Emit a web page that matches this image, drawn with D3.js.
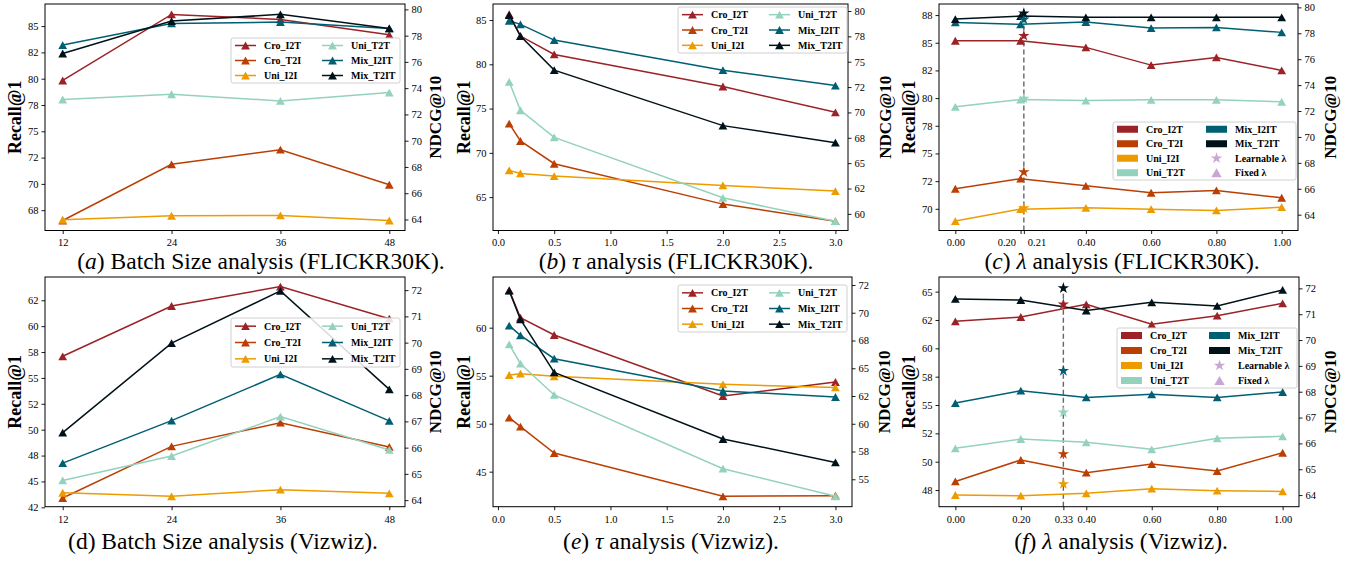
<!DOCTYPE html>
<html><head><meta charset="utf-8">
<script src="https://cdn.jsdelivr.net/npm/d3@7"></script>
<style>
body{margin:0;background:#fff;}
svg{display:block;font-family:"Liberation Serif","Times New Roman",serif;}
</style></head><body>
<svg id="c" width="1354" height="561"></svg>
<script>
// ---------- data ----------
const seriesNames = ["Cro_I2T","Cro_T2I","Uni_I2I","Uni_T2T","Mix_I2IT","Mix_T2IT"];
const seriesColors = ["#9b2226","#bb3e03","#ee9b00","#94d2bd","#005f73","#001219"];
const seriesAxis = ["L","L","L","L","R","R"]; // Recall@1 (left) / NDCG@10 (right)
const legendExtra = ["Learnable λ","Fixed λ"];
const extraColor = "#c9a6d6";

const batchX = [12,24,36,48];
const tauX = [0.1,0.2,0.5,2.0,3.0];
const lambdaX = [0,0.2,0.4,0.6,0.8,1.0];
const learnLambdaFlickr = 0.21;
const learnLambdaViz = 0.33;

const batchTicks = [12,24,36,48];
const tauTicks = [0,0.5,1,1.5,2,2.5,3];
const lambdaTicksFlickr = [0,0.2,0.21,0.4,0.6,0.8,1.0];
const lambdaTicksViz = [0,0.2,0.33,0.4,0.6,0.8,1.0];

// (a) Batch size, FLICKR30K  (rows follow seriesNames)
const flickrBatch = [
  [79.83,86.11,85.63,84.17],
  [66.52,71.86,73.25,69.92],
  [66.59,66.97,67.00,66.52],
  [78.02,78.52,77.89,78.68],
  [77.28,78.93,79.03,78.55],
  [76.64,79.11,79.62,78.55]
];
// (b) tau, FLICKR30K
const flickrTau = [
  [85.65,83.19,81.11,77.49,74.58],
  [73.30,71.34,68.77,64.21,62.28],
  [68.02,67.68,67.38,66.32,65.68],
  [78.02,74.81,71.75,64.92,62.28],
  [79.04,78.68,77.13,74.17,72.65],
  [79.60,77.53,74.17,68.70,67.02]
];
// (c) lambda, FLICKR30K
const flickrLambda = [
  [85.18,85.18,84.58,82.98,83.67,82.50],
  [71.81,72.72,72.08,71.45,71.66,71.00],
  [68.89,69.97,70.09,69.97,69.85,70.15],
  [79.21,79.87,79.78,79.84,79.84,79.66],
  [78.84,78.69,78.87,78.40,78.45,78.07],
  [79.10,79.33,79.23,79.23,79.23,79.23]
];
const flickrLearnable = [85.63,73.32,70.06,79.96,79.07,79.54];
// (d) Batch size, Vizwiz
const vizBatch = [
  [57.09,61.95,63.82,60.72],
  [43.40,48.39,50.68,48.33],
  [43.91,43.56,44.20,43.85],
  [45.10,47.46,51.26,48.04],
  [65.41,67.03,68.79,67.02],
  [66.57,69.98,71.97,68.22]
];
// (e) tau, Vizwiz
const vizTau = [
  [63.90,61.04,59.24,52.88,54.34],
  [50.63,49.69,46.94,42.43,42.50],
  [55.07,55.21,54.93,54.10,53.78],
  [58.26,56.25,52.99,45.31,42.43],
  [68.84,67.97,65.86,62.95,62.41],
  [71.99,69.41,64.63,58.63,56.52]
];
// (f) lambda, Vizwiz
const vizLambda = [
  [62.38,62.76,63.88,62.12,62.88,63.97],
  [48.26,50.15,49.03,49.79,49.18,50.79],
  [47.06,47.00,47.21,47.62,47.44,47.38],
  [51.18,52.00,51.71,51.09,52.06,52.24],
  [67.56,68.04,67.78,67.90,67.78,67.99],
  [71.59,71.55,71.14,71.46,71.32,71.94]
];
const vizLearnable = [63.88,50.68,48.03,54.35,68.81,72.01];

// ---------- helpers ----------
function halfEven(v){
  const f = Math.floor(v), d = v - f;
  if (Math.abs(d-0.5) < 1e-9) return String(f%2===0 ? f : f+1);
  return String(Math.round(v));
}
function triPath(w,h){ return `M0,${-h}L${w},${h}L${-w},${h}Z`; }
function starPath(r){
  const ri = r*0.381966; let s="";
  for(let i=0;i<10;i++){
    const a = -Math.PI/2 + i*Math.PI/5, rr = i%2===0 ? r : ri;
    s += (i===0?"M":"L") + (rr*Math.cos(a)).toFixed(2) + "," + (rr*Math.sin(a)).toFixed(2);
  }
  return s+"Z";
}

// ---------- panel layout ----------
const panels = [
 {x:batchX, v:flickrBatch, xt:batchTicks, xf:d=>String(d), box:[45,4,405,230.5], xd:[10.05,49.73],
  yl:[65.57,87.1], yr:[63.16,80.41], lt:d3.range(67.5,85.01,2.5), rt:d3.range(64,80.01,2),
  leg:{x:231,y:38,w:169,h:45,c2:87,type:"line"}, rx:435, lx:15,
  cap:{x:261,y:269,parts:[["(",0],["a",1],[") Batch Size analysis (FLICKR30K).",0]]}},
 {x:tauX, v:flickrTau, xt:tauTicks, xf:d3.format(".1f"), box:[493,4,848,230.5], xd:[-0.044,3.112],
  yl:[61.23,86.81], yr:[58.36,80.69], lt:d3.range(65,85.01,5), rt:d3.range(60,80.01,2.5),
  leg:{x:678,y:7,w:169,h:46,c2:87,type:"line"}, rx:885, lx:464,
  cap:{x:676,y:269,parts:[["(",0],["b",1],[") ",0],["τ",1],[" analysis (FLICKR30K).",0]]}},
 {x:lambdaX, v:flickrLambda, xt:lambdaTicksFlickr, xf:d3.format(".2f"), box:[939,4,1298,230.5], xd:[-0.05,1.05],
  yl:[68.04,88.5], yr:[62.78,80.26], lt:d3.range(70,87.51,2.5), rt:d3.range(64,80.01,2),
  leg:{x:1113,y:122,w:183,h:58,c2:89,type:"patch"}, rx:1330, lx:909,
  star:{x:learnLambdaFlickr, v:flickrLearnable}, split:[0.2,0.21],
  cap:{x:1122,y:269,parts:[["(",0],["c",1],[") ",0],["λ",1],[" analysis (FLICKR30K).",0]]}},
 {x:batchX, v:vizBatch, xt:batchTicks, xf:d=>String(d), box:[45,277,405,506.7], xd:[10.05,49.73],
  yl:[42.56,64.75], yr:[63.75,72.5], lt:d3.range(42.5,62.51,2.5), rt:d3.range(64,72.01,1),
  leg:{x:231,y:318,w:169,h:49,c2:87,type:"line"}, rx:435, lx:15,
  cap:{x:223,y:549,parts:[["(d) Batch Size analysis (Vizwiz).",0]]}},
 {x:tauX, v:vizTau, xt:tauTicks, xf:d3.format(".1f"), box:[493,277,852,506.7], xd:[-0.044,3.147],
  yl:[41.35,65.28], yr:[52.53,73.22], lt:d3.range(45,60.01,5), rt:d3.range(55,72.51,2.5),
  leg:{x:678,y:285,w:169,h:47,c2:87,type:"line"}, rx:884, lx:464,
  cap:{x:671,y:549,parts:[["(",0],["e",1],[") ",0],["τ",1],[" analysis (Vizwiz).",0]]}},
 {x:lambdaX, v:vizLambda, xt:lambdaTicksViz, xf:d3.format(".2f"), box:[939,277,1299,506.7], xd:[-0.05,1.05],
  yl:[46.03,66.29], yr:[63.55,72.44], lt:d3.range(47.5,65.01,2.5), rt:d3.range(64,72.01,1),
  leg:{x:1117,y:328,w:180,h:60,c2:88,type:"patch"}, rx:1330, lx:909,
  star:{x:learnLambdaViz, v:vizLearnable},
  cap:{x:1121,y:549,parts:[["(",0],["f",1],[") ",0],["λ",1],[" analysis (Vizwiz).",0]]}}
];

const svg = d3.select("#c");
const FONT = '"Liberation Serif","Times New Roman",serif';

function styleAxis(sel){
  sel.attr("font-family",FONT).attr("font-size",10.5);
  sel.selectAll("text").attr("fill","#000");
  sel.selectAll("line").attr("stroke","#000").attr("stroke-width",0.9);
  sel.select(".domain").remove();
}

panels.forEach(p=>{
  const [x0,y0,x1,y1] = p.box;
  const xs = d3.scaleLinear().domain(p.xd).range([x0,x1]);
  const yL = d3.scaleLinear().domain(p.yl).range([y1,y0]);
  const yR = d3.scaleLinear().domain(p.yr).range([y1,y0]);
  const g = svg.append("g");

  const xa = g.append("g").attr("transform",`translate(0,${y1})`)
    .call(d3.axisBottom(xs).tickValues(p.xt).tickFormat(p.xf).tickSize(3.5).tickPadding(5));
  styleAxis(xa);
  if (p.split){
    xa.selectAll(".tick text").filter(d=>d===p.split[0]).attr("text-anchor","end").attr("x",-5);
    xa.selectAll(".tick text").filter(d=>d===p.split[1]).attr("text-anchor","start").attr("x",3.5);
  }
  const la = g.append("g").attr("transform",`translate(${x0},0)`)
    .call(d3.axisLeft(yL).tickValues(p.lt).tickFormat(halfEven).tickSize(3.5).tickPadding(3));
  styleAxis(la);
  const ra = g.append("g").attr("transform",`translate(${x1},0)`)
    .call(d3.axisRight(yR).tickValues(p.rt).tickFormat(halfEven).tickSize(3.5).tickPadding(3));
  styleAxis(ra);

  // axis titles
  g.append("text").attr("transform",`translate(${p.lx},${(y0+y1)/2}) rotate(-90)`)
    .attr("text-anchor","middle").attr("dominant-baseline","central")
    .attr("font-family",FONT).attr("font-weight","bold").attr("font-size",18).text("Recall@1");
  g.append("text").attr("transform",`translate(${p.rx},${(y0+y1)/2}) rotate(-90)`)
    .attr("text-anchor","middle").attr("dominant-baseline","central")
    .attr("font-family",FONT).attr("font-weight","bold").attr("font-size",17).text("NDCG@10");

  // dashed guide for learnable lambda
  if (p.star){
    const ys = p.star.v.map((v,i)=> (seriesAxis[i]==="L"?yL:yR)(v));
    g.append("line").attr("x1",xs(p.star.x)).attr("x2",xs(p.star.x))
      .attr("y1",y1).attr("y2",d3.min(ys))
      .attr("stroke","#666").attr("stroke-width",1.4).attr("stroke-dasharray","5,3");
  }

  // series
  const line = d3.line();
  seriesNames.forEach((name,i)=>{
    const ys = seriesAxis[i]==="L"?yL:yR;
    const pts = p.x.map((xv,j)=>[xs(xv), ys(p.v[i][j])]);
    g.append("path").attr("d",line(pts)).attr("fill","none")
      .attr("stroke",seriesColors[i]).attr("stroke-width",1.5);
    g.selectAll(null).data(pts).enter().append("path")
      .attr("d",triPath(4.4,3.9)).attr("transform",d=>`translate(${d[0]},${d[1]})`)
      .attr("fill",seriesColors[i]);
  });
  if (p.star){
    seriesNames.forEach((name,i)=>{
      const ys = seriesAxis[i]==="L"?yL:yR;
      g.append("path").attr("d",starPath(6))
        .attr("transform",`translate(${xs(p.star.x)},${ys(p.star.v[i])})`)
        .attr("fill",seriesColors[i]);
    });
  }

  // frame
  g.append("rect").attr("x",x0).attr("y",y0).attr("width",x1-x0).attr("height",y1-y0)
    .attr("fill","none").attr("stroke","#000").attr("stroke-width",1);

  // legend
  const L = p.leg;
  const lg = g.append("g");
  lg.append("rect").attr("x",L.x).attr("y",L.y).attr("width",L.w).attr("height",L.h)
    .attr("rx",2).attr("fill","#fff").attr("fill-opacity",0.85).attr("stroke","#d0d0d0").attr("stroke-width",1);
  let entries;
  if (L.type==="line"){
    entries = seriesNames.map((n,i)=>({n, c:seriesColors[i], kind:"line", col:Math.floor(i/3), row:i%3}));
  } else {
    entries = seriesNames.map((n,i)=>({n, c:seriesColors[i], kind:"patch", col:i<4?0:1, row:i<4?i:i-4}));
    entries.push({n:legendExtra[0], c:extraColor, kind:"star", col:1, row:2});
    entries.push({n:legendExtra[1], c:extraColor, kind:"tri", col:1, row:3});
  }
  const nRows = L.type==="line"?3:4;
  entries.forEach(e=>{
    const ry = L.y + L.h*(e.row+0.5)/nRows;
    const hx = L.x + 4 + e.col*L.c2;
    if (e.kind==="line"){
      lg.append("line").attr("x1",hx).attr("x2",hx+21).attr("y1",ry).attr("y2",ry)
        .attr("stroke",e.c).attr("stroke-width",1.5);
      lg.append("path").attr("d",triPath(4.4,3.9)).attr("transform",`translate(${hx+10.5},${ry})`).attr("fill",e.c);
    } else if (e.kind==="patch"){
      lg.append("rect").attr("x",hx).attr("y",ry-3.5).attr("width",21).attr("height",7).attr("fill",e.c);
    } else if (e.kind==="star"){
      lg.append("path").attr("d",starPath(6)).attr("transform",`translate(${hx+10.5},${ry})`).attr("fill",e.c);
    } else {
      lg.append("path").attr("d",triPath(5.2,4.6)).attr("transform",`translate(${hx+10.5},${ry})`).attr("fill",e.c);
    }
    lg.append("text").attr("x",hx+29).attr("y",ry+3.5)
      .attr("font-family",FONT).attr("font-weight","bold").attr("font-size",10).text(e.n);
  });

  // caption
  const t = g.append("text").attr("x",p.cap.x).attr("y",p.cap.y).attr("text-anchor","middle")
    .attr("font-family",FONT).attr("font-size",23.5);
  p.cap.parts.forEach(([s,it])=>{
    t.append("tspan").attr("font-style",it?"italic":"normal").text(s);
  });
});
</script>
</body></html>
